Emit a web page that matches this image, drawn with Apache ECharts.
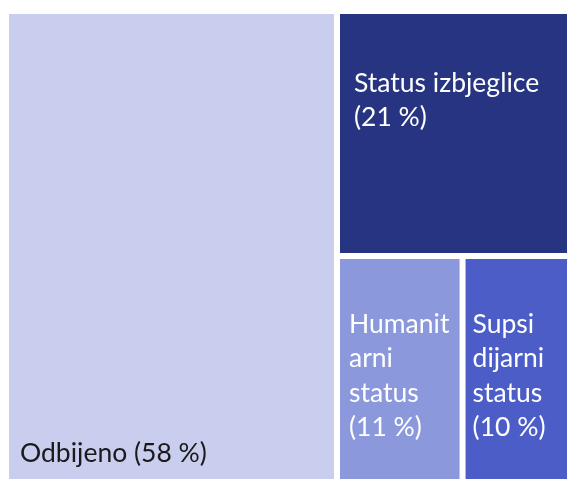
<!DOCTYPE html>
<html>
<head>
<meta charset="utf-8">
<script src="https://cdn.jsdelivr.net/npm/echarts@6/dist/echarts.min.js"></script>
<style>
  * { margin: 0; padding: 0; }
  body { background: #fff; }
  #chart { width: 567px; height: 479px; }
</style>
</head>
<body>
<div id="chart"></div>
<script>
// udio odluka po vrsti (%)
const names = ["Odbijeno", "Status izbjeglice", "Humanitarni status", "Supsidijarni status"];
const shares = [58, 21, 11, 10];
// tekst oznaka onako kako je prelomljen na slici
const labelLines = [
  ["Odbijeno (58 %)"],
  ["Status izbjeglice", "(21 %)"],
  ["Humanit", "arni", "status", "(11 %)"],
  ["Supsi", "dijarni", "status", "(10 %)"]
];

const colors = ["#C9CDEE", "#273482", "#8B98DC", "#4C5DC8"];
const textColors = ["#1a1a1a", "#fff", "#fff", "#fff"];
// pozicija oznake unutar pravokutnika [x, y]
const labelPos = [[11, 422], [14, 52], [9, 48], [7, 48]];

const chart = echarts.init(document.getElementById("chart"));

const option = {
  animation: false,
  series: [
    {
      type: "treemap",
      left: 9,
      top: 14,
      width: 564.7,
      height: 484,
      roam: false,
      nodeClick: false,
      squareRatio: 1.3,
      breadcrumb: { show: false },
      itemStyle: { gapWidth: 6, borderWidth: 0 },
      label: {
        show: true,
        fontFamily: "Lato",
        fontSize: 26.5,
        lineHeight: 34.5,
        padding: 0,
        overflow: "none",
        verticalAlign: "top",
        align: "left"
      },
      data: names.map((n, i) => ({
        name: n,
        value: shares[i],
        itemStyle: { color: colors[i] },
        label: {
          position: labelPos[i],
          color: textColors[i],
          formatter: labelLines[i].join("\n")
        }
      }))
    }
  ]
};

chart.setOption(option);
</script>
</body>
</html>
